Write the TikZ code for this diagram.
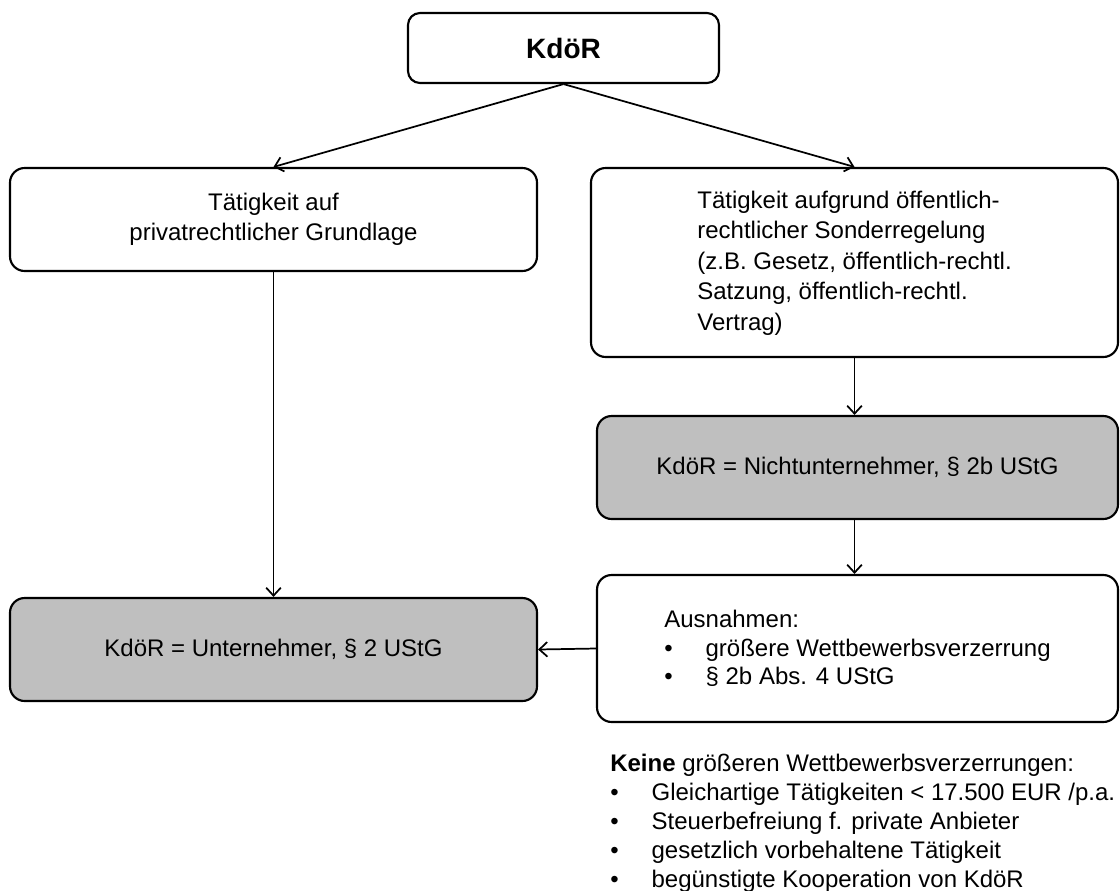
\documentclass[tikz,border=0pt]{standalone}
\usepackage{fontspec}
\setmainfont{Liberation Sans}
\usetikzlibrary{arrows.meta}
\tikzset{>={Straight Barb[length=6pt,width=11pt]}}
\tikzset{box/.style={draw,rounded corners=11pt,line width=1.6pt,inner sep=0pt,align=center,
    font=\fontsize{18}{22.8}\selectfont}}
\tikzset{greybox/.style={box,fill=black!25}}
\tikzset{arr/.style={->,line width=1.3pt}}
\newcommand{\bul}{\makebox[31pt][l]{\textbullet}}

\begin{document}
\begin{tikzpicture}[x=0.75pt,y=-0.75pt]
    \useasboundingbox (0,0) rectangle (1120,890);
    \node[box,rounded corners=9pt,minimum width=233.25pt,minimum height=52.5pt,
      font=\fontsize{21}{24}\selectfont\bfseries] (kdoer) at (563.5,48) {KdöR};
    \node[box,minimum width=395.25pt,minimum height=77.25pt] (privat) at (273.5,219.5)
      {Tätigkeit auf\\privatrechtlicher Grundlage};
    \node[box,align=left,minimum width=395.25pt,minimum height=141.75pt,
      text depth=3pt] (oeff) at (854.5,262.5)
      {Tätigkeit aufgrund öffentlich-\\rechtlicher Sonderregelung\\(z.B. Gesetz, öffentlich-rechtl.\\Satzung, öffentlich-rechtl.\\Vertrag)};
    \node[greybox,minimum width=390.75pt,minimum height=77.25pt] (nicht) at (857.5,467.5)
      {KdöR = Nichtunternehmer, § 2b UStG};
    \node[box,align=left,minimum width=390.75pt,minimum height=110.25pt,
      font=\fontsize{18}{21.4}\selectfont] (ausn) at (857.5,648.5)
      {Ausnahmen:\\\bul größere Wettbewerbsverzerrung\\\bul § 2b Abs. 4 UStG};
    \node[greybox,minimum width=395.25pt,minimum height=77.25pt] (unter) at (273.5,649.5)
      {KdöR = Unternehmer, § 2 UStG};
    \node[align=left,anchor=north west,inner sep=0pt,font=\fontsize{18}{21.75}\selectfont] (keine) at (610,754)
      {\textbf{Keine} größeren Wettbewerbsverzerrungen:\\
       \bul Gleichartige Tätigkeiten < 17.500 EUR /p.a.\\
       \bul Steuerbefreiung f. private Anbieter\\
       \bul gesetzlich vorbehaltene Tätigkeit\\
       \bul begünstigte Kooperation von KdöR};
    \draw[arr] (kdoer.south) -- (privat.north);
    \draw[arr] (kdoer.south) -- (oeff.north);
    \draw[arr] (privat.south) -- (unter.north);
    \draw[arr] (oeff.south) -- (oeff.south |- nicht.north);
    \draw[arr] (oeff.south |- nicht.south) -- (oeff.south |- ausn.north);
    \draw[arr] (ausn.west) -- (unter.east);
  \end{tikzpicture}
\end{document}
